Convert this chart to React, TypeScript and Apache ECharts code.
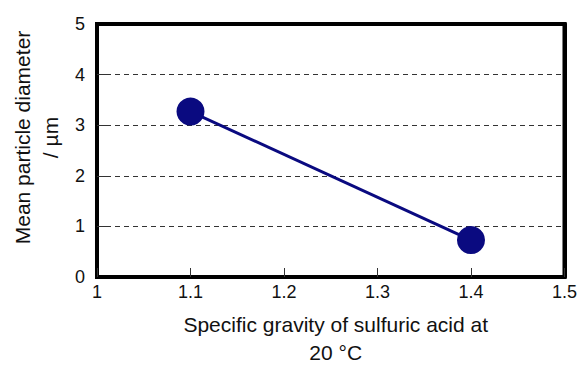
import React, { useEffect, useRef } from "react";
import * as echarts from "echarts";

const gravity = [1.1, 1.4];
const diameter = [3.27, 0.73];
const xTicks = [1, 1.1, 1.2, 1.3, 1.4, 1.5];
const yTicks = [0, 1, 2, 3, 4, 5];

export default function App() {
  const ref = useRef<HTMLDivElement>(null);
  useEffect(() => {
    if (!ref.current) return;
    const chart = echarts.init(ref.current, null, { renderer: "svg" });
    const font = "'Liberation Sans', Arial, Helvetica, sans-serif";
    const frameLine = () => ({ show: true, onZero: false, lineStyle: { color: "#000000", width: 4, opacity: 1 } });
    chart.setOption({
      animation: false,
      backgroundColor: "#ffffff",
      grid: {
        left: 97,
        right: 8,
        top: 24,
        bottom: 91,
        show: true,
        borderColor: "#000000",
        borderWidth: 4,
        backgroundColor: "rgba(0,0,0,0)",
      },
      xAxis: [
        {
          type: "value",
          min: xTicks[0],
          max: xTicks[xTicks.length - 1],
          interval: 0.1,
          name: "Specific gravity of sulfuric acid at\n20 °C",
          nameLocation: "middle",
          nameGap: 33,
          nameTextStyle: { fontFamily: font, fontSize: 21, color: "#111", lineHeight: 28, padding: [0, 0, 0, 10] },
          axisLine: frameLine(),
          axisTick: { show: true, inside: true, length: 9, lineStyle: { color: "#333", width: 1 } },
          axisLabel: {
            fontFamily: font,
            fontSize: 18,
            color: "#111",
            margin: 6,
            formatter: (v: number) => String(Math.round(v * 10) / 10),
          },
          splitLine: { show: false },
          z: 3,
        },
        {
          type: "value",
          position: "top",
          min: xTicks[0],
          max: xTicks[xTicks.length - 1],
          axisLine: frameLine(),
          axisTick: { show: false },
          axisLabel: { show: false },
          splitLine: { show: false },
          z: 3,
        },
      ],
      yAxis: [
        {
          type: "value",
          min: yTicks[0],
          max: yTicks[yTicks.length - 1],
          interval: 1,
          name: "Mean particle diameter\n/ µm",
          nameLocation: "middle",
          nameGap: 30,
          nameTextStyle: { fontFamily: font, fontSize: 21, color: "#111", lineHeight: 28, padding: [0, 0, 0, 26] },
          axisLine: frameLine(),
          axisTick: { show: true, inside: true, length: 10, lineStyle: { color: "#333", width: 1 } },
          axisLabel: { fontFamily: font, fontSize: 18, color: "#111", margin: 12 },
          splitLine: {
            show: true,
            lineStyle: { color: "#333", width: 1, type: [5, 4] },
          },
          z: 2,
        },
        {
          type: "value",
          position: "right",
          min: yTicks[0],
          max: yTicks[yTicks.length - 1],
          axisLine: frameLine(),
          axisTick: { show: false },
          axisLabel: { show: false },
          splitLine: { show: false },
          z: 3,
        },
      ],
      series: [
        {
          type: "line",
          data: gravity.map((g, i) => [g, diameter[i]]),
          symbol: "circle",
          symbolSize: 28,
          lineStyle: { color: "#0a0a80", width: 3 },
          itemStyle: { color: "#0a0a80" },
          z: 5,
        },
      ],
    });
    return () => chart.dispose();
  }, []);
  return <div ref={ref} style={{ width: 580, height: 371, position: "absolute", left: 0, top: 0 }} />;
}
